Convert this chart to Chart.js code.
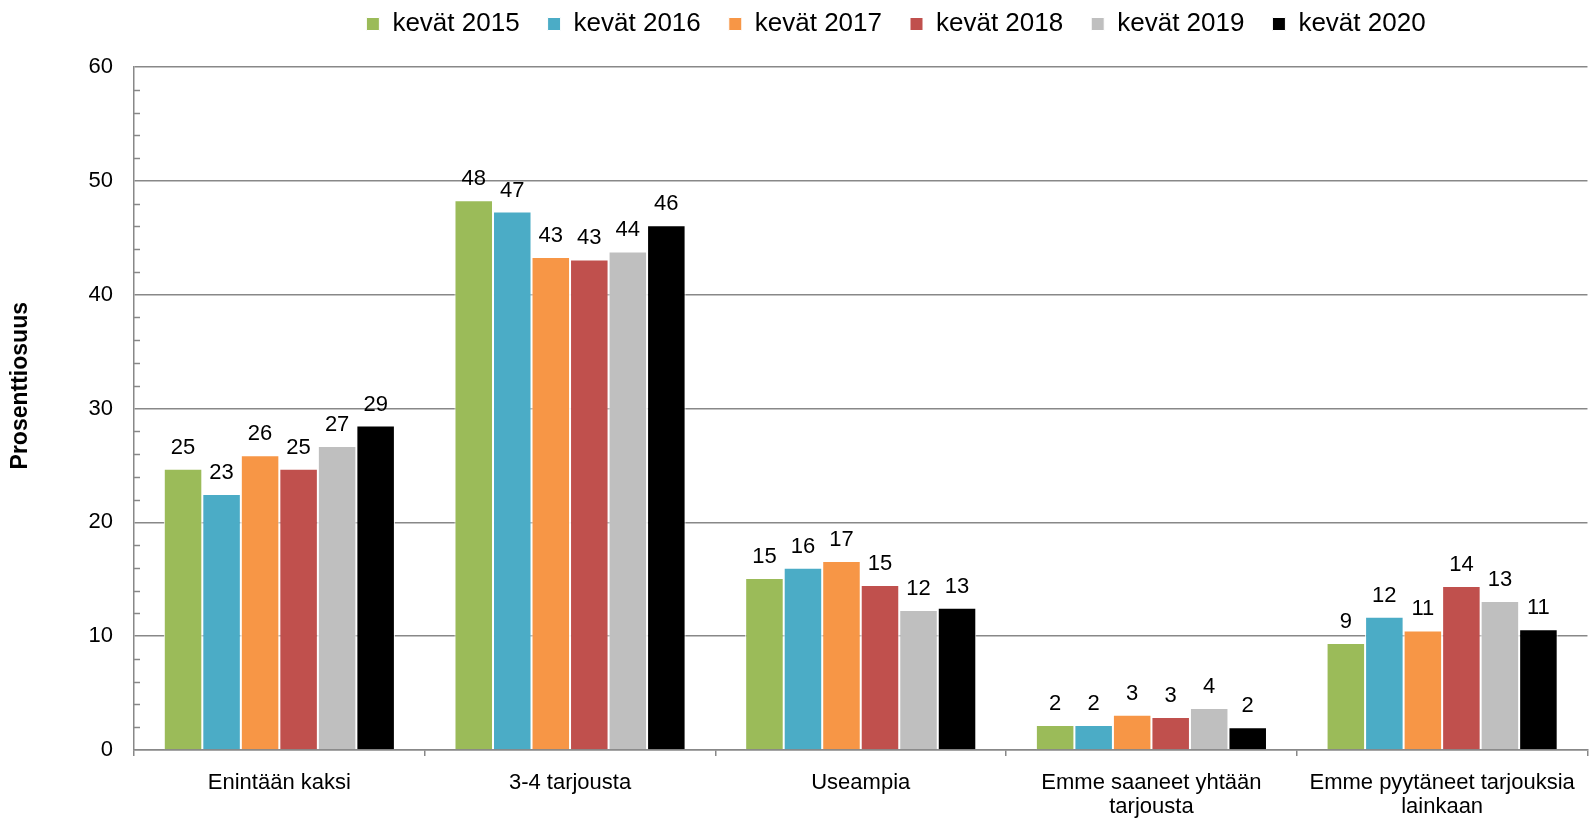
<!DOCTYPE html>
<html>
<head>
<meta charset="utf-8">
<script src="https://cdn.jsdelivr.net/npm/chart.js@4"></script>
<style>
  html, body { margin: 0; padding: 0; background: #fff; }
  #wrap { width: 1590px; height: 818px; }
</style>
</head>
<body>
<div id="wrap"><canvas id="jsChart" width="1590" height="818"></canvas></div>
<script>
// kategoriat ja sarjat
const categories = [
  'Enintään kaksi',
  '3-4 tarjousta',
  'Useampia',
  ['Emme saaneet yhtään', 'tarjousta'],
  ['Emme pyytäneet tarjouksia', 'lainkaan'],
];
const seriesNames = ['kevät 2015', 'kevät 2016', 'kevät 2017', 'kevät 2018', 'kevät 2019', 'kevät 2020'];
const kevat2015 = [24.7, 48.3, 15.1, 2.2, 9.4];
const kevat2016 = [22.5, 47.3, 16.0, 2.2, 11.7];
const kevat2017 = [25.9, 43.3, 16.6, 3.1, 10.5];
const kevat2018 = [24.7, 43.1, 14.5, 2.9, 14.4];
const kevat2019 = [26.7, 43.8, 12.3, 3.7, 13.1];
const kevat2020 = [28.5, 46.1, 12.5, 2.0, 10.6];
const yTicks = [0, 10, 20, 30, 40, 50, 60];
const yTitle = 'Prosenttiosuus';

const seriesValues = [kevat2015, kevat2016, kevat2017, kevat2018, kevat2019, kevat2020];
const colors = ['#9BBB59', '#4BACC6', '#F79646', '#C0504D', '#BFBFBF', '#000000'];
const fontFamily = '"Liberation Sans", Arial, sans-serif';

// arvot palkkien päälle
const valueLabels = {
  id: 'valueLabels',
  afterDatasetsDraw(chart) {
    const ctx = chart.ctx;
    ctx.save();
    ctx.font = '22px ' + fontFamily;
    ctx.fillStyle = '#000';
    ctx.textAlign = 'center';
    ctx.textBaseline = 'alphabetic';
    chart.data.datasets.forEach((ds, i) => {
      chart.getDatasetMeta(i).data.forEach((bar, j) => {
        ctx.fillText(Math.round(ds.data[j]), bar.x, bar.y - 15);
      });
    });
    ctx.restore();
  },
};

// pienet väliviivat y-akselille + akselin otsikko (hieman keskikohdan yläpuolella)
const axisExtras = {
  id: 'axisExtras',
  afterDraw(chart) {
    const y = chart.scales.y;
    const ctx = chart.ctx;
    ctx.save();
    ctx.strokeStyle = '#888';
    ctx.lineWidth = 1.5;
    for (let v = 0; v < 60; v += 2) {
      if (v % 10 === 0) continue;
      const py = Math.round(y.getPixelForValue(v)) + 0.5;
      ctx.beginPath();
      ctx.moveTo(y.right, py);
      ctx.lineTo(y.right + 6, py);
      ctx.stroke();
    }
    ctx.translate(y.left + 13, y.getPixelForValue(32));
    ctx.rotate(-Math.PI / 2);
    ctx.font = 'bold 23px ' + fontFamily;
    ctx.fillStyle = '#000';
    ctx.textAlign = 'center';
    ctx.textBaseline = 'middle';
    ctx.fillText(yTitle, 0, 0);
    ctx.restore();
  },
};

// selite hieman oikealle ja ylös kuten alkuperäisessä
const legendShift = {
  id: 'legendShift',
  afterLayout(chart) {
    const lg = chart.legend;
    lg.left += 98;
    lg.right += 98;
    lg.top -= 20;
  },
};

const ctx = document.getElementById('jsChart');

new Chart(ctx, {
  type: 'bar',
  data: {
    labels: categories,
    datasets: seriesNames.map((name, i) => ({
      label: name,
      data: seriesValues[i],
      backgroundColor: colors[i],
      borderColor: '#ffffff',
      borderWidth: 1,
      barPercentage: 1,
      categoryPercentage: 0.795,
    })),
  },
  options: {
    responsive: false,
    animation: false,
    devicePixelRatio: 1,
    layout: { padding: { left: 8, right: 2, top: 3, bottom: 0 } },
    plugins: {
      tooltip: { enabled: false },
      legend: {
        position: 'top',
        labels: {
          boxWidth: 13,
          boxHeight: 13,
          padding: 28,
          color: '#000',
          font: { size: 26, family: fontFamily },
        },
      },
    },
    scales: {
      x: {
        afterFit: (scale) => {
          scale.height = 68;
        },
        grid: {
          drawOnChartArea: false,
          color: '#888',
          lineWidth: 1.5,
          tickLength: 6,
        },
        border: { color: '#888', width: 1.5 },
        ticks: {
          color: '#000',
          maxRotation: 0,
          autoSkip: false,
          padding: 15,
          font: { size: 22, family: fontFamily, lineHeight: 1.08 },
        },
      },
      y: {
        min: 0,
        max: 60,
        afterBuildTicks: (scale) => {
          scale.ticks = yTicks.map((v) => ({ value: v }));
        },
        afterFit: (scale) => {
          scale.width = 126;
        },
        grid: {
          color: '#888',
          lineWidth: 1.5,
          drawTicks: false,
        },
        border: { color: '#888', width: 1.5 },
        ticks: {
          color: '#000',
          padding: 21,
          font: { size: 22, family: fontFamily },
        },
      },
    },
  },
  plugins: [valueLabels, axisExtras, legendShift],
});
</script>
</body>
</html>
